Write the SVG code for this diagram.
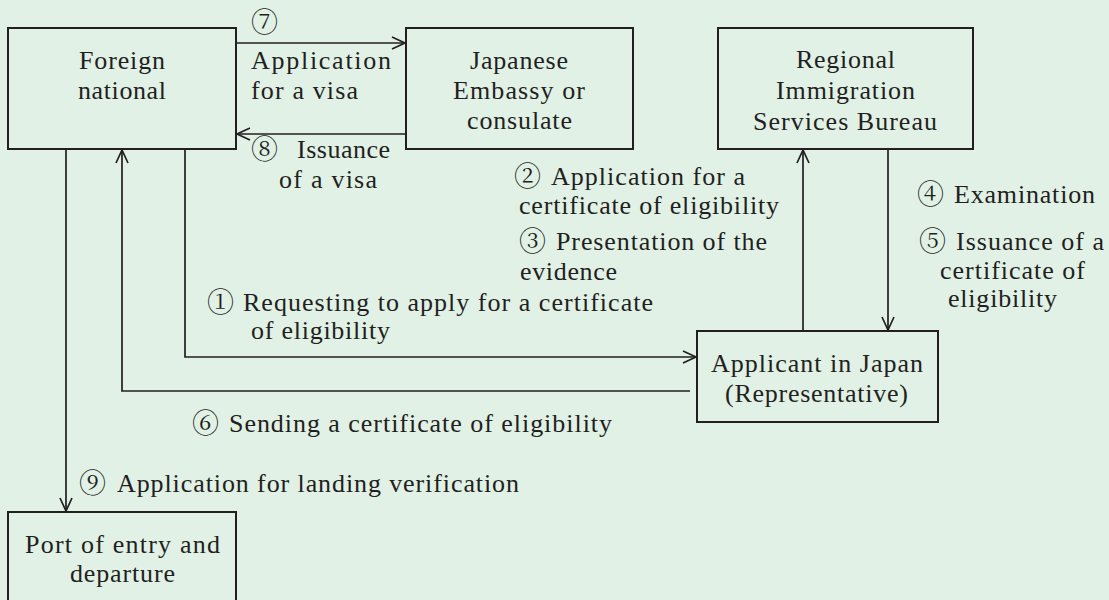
<svg xmlns="http://www.w3.org/2000/svg" width="1109" height="600" viewBox="0 0 1109 600">
<defs>
<style>
.bg{fill:#e1f1e6}
.box{fill:none;stroke:#231f20;stroke-width:2}
.ln{fill:none;stroke:#231f20;stroke-width:1.7}
.tx{font-family:"Liberation Serif",serif;font-size:26px;fill:#231f20}
.cn{font-family:"Noto Serif CJK JP","Noto Sans CJK JP",serif;font-size:27px;fill:#231f20}
</style>
<marker id="ah" viewBox="-14 -8 16 16" markerWidth="16" markerHeight="16" markerUnits="userSpaceOnUse" orient="auto" refX="0" refY="0">
<path d="M-13,-6 L0,0 L-13,6" fill="none" stroke="#231f20" stroke-width="1.7"/>
</marker>
</defs>
<rect class="bg" x="0" y="0" width="1109" height="600"/>

<g id="connectors">
<path class="ln" d="M236,43 H405" marker-end="url(#ah)"/>
<path class="ln" d="M406,134 H237" marker-end="url(#ah)"/>
<path class="ln" d="M66,149 V511" marker-end="url(#ah)"/>
<path class="ln" d="M690,391 H122 V150" marker-end="url(#ah)"/>
<path class="ln" d="M185,149 V357 H696" marker-end="url(#ah)"/>
<path class="ln" d="M803,331 V150" marker-end="url(#ah)"/>
<path class="ln" d="M888,149 V330" marker-end="url(#ah)"/>
</g>

<g id="node-foreign">
<rect class="box" x="8" y="28" width="228" height="121"/>
<text class="tx" x="79" y="69" textLength="86">Foreign</text>
<text class="tx" x="78" y="99" textLength="88">national</text>
</g>
<g id="node-embassy">
<rect class="box" x="406" y="28" width="227" height="121"/>
<text class="tx" x="470" y="69" textLength="98">Japanese</text>
<text class="tx" x="453" y="99" textLength="132">Embassy or</text>
<text class="tx" x="467" y="129" textLength="105">consulate</text>
</g>
<g id="node-bureau">
<rect class="box" x="718" y="28" width="255" height="121"/>
<text class="tx" x="796" y="68" textLength="99">Regional</text>
<text class="tx" x="776" y="99" textLength="139">Immigration</text>
<text class="tx" x="753" y="130" textLength="184">Services Bureau</text>
</g>
<g id="node-applicant">
<rect class="box" x="697" y="331" width="241" height="91"/>
<text class="tx" x="711" y="372" textLength="212">Applicant in Japan</text>
<text class="tx" x="725" y="402" textLength="183">(Representative)</text>
</g>
<g id="node-port">
<rect class="box" x="8" y="512" width="228" height="100"/>
<text class="tx" x="25" y="553" textLength="195">Port of entry and</text>
<text class="tx" x="70" y="582" textLength="105">departure</text>
</g>

<g id="labels">
<text class="cn" x="251" y="32">⑦</text>
<text class="cn" x="251" y="159">⑧</text>
<text class="cn" x="514" y="186">②</text>
<text class="cn" x="519" y="251">③</text>
<text class="cn" x="207" y="312">①</text>
<text class="cn" x="917" y="204">④</text>
<text class="cn" x="919" y="251">⑤</text>
<text class="cn" x="192" y="433">⑥</text>
<text class="cn" x="79" y="493">⑨</text>
<text class="tx" x="251" y="69" textLength="140">Application</text>
<text class="tx" x="251" y="99" textLength="107">for a visa</text>
<text class="tx" x="297" y="158" textLength="93">Issuance</text>
<text class="tx" x="279" y="188" textLength="98">of a visa</text>
<text class="tx" x="551" y="185" textLength="194">Application for a</text>
<text class="tx" x="519" y="214" textLength="260">certificate of eligibility</text>
<text class="tx" x="556" y="250" textLength="211">Presentation of the</text>
<text class="tx" x="520" y="280" textLength="97">evidence</text>
<text class="tx" x="243" y="311" textLength="410">Requesting to apply for a certificate</text>
<text class="tx" x="251" y="339" textLength="139">of eligibility</text>
<text class="tx" x="954" y="203" textLength="141">Examination</text>
<text class="tx" x="956" y="250" textLength="148">Issuance of a</text>
<text class="tx" x="940" y="279" textLength="145">certificate of</text>
<text class="tx" x="948" y="307" textLength="109">eligibility</text>
<text class="tx" x="229" y="432" textLength="383">Sending a certificate of eligibility</text>
<text class="tx" x="117" y="492" textLength="402">Application for landing verification</text>
</g>
</svg>
